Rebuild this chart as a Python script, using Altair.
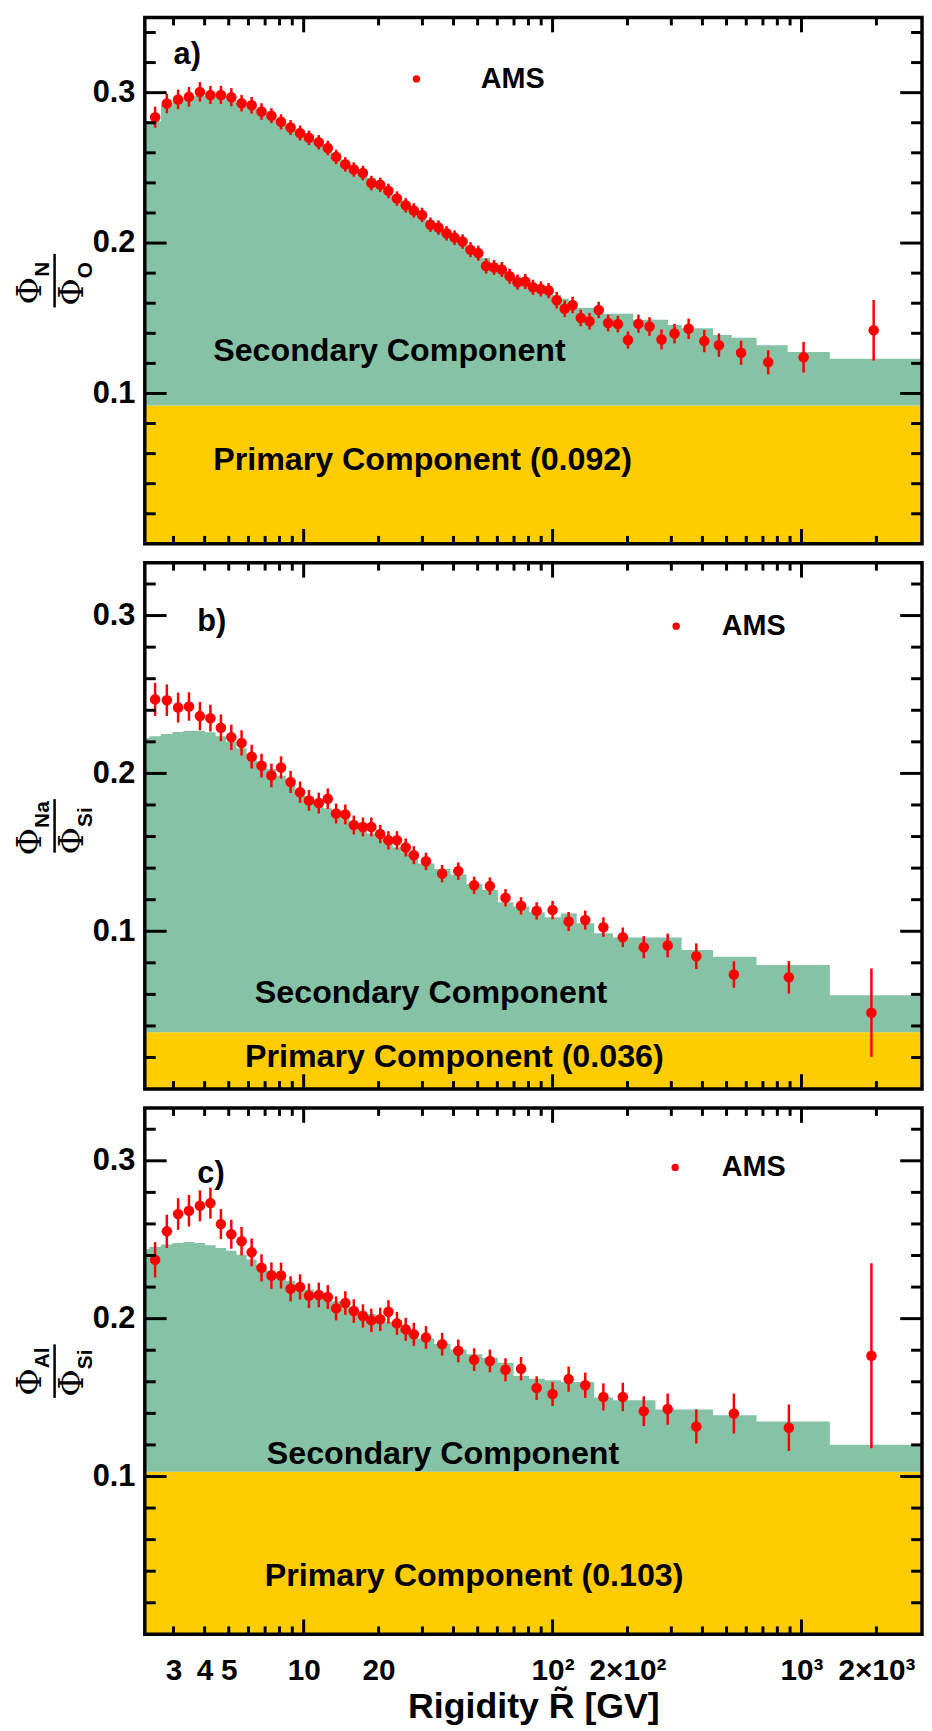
import altair as alt
import pandas as pd

# ---------------- data ----------------
# rigidity bin edges (GV)
EDGES_FINE = [2.15, 2.40, 2.67, 2.97, 3.29, 3.64, 4.02, 4.43, 4.88, 5.37, 5.90, 6.47, 7.09, 7.76,
              8.48, 9.26, 10.1, 11.0, 12.0, 13.0, 14.1, 15.3, 16.6, 18.0, 19.5, 21.1, 22.8, 24.7,
              26.7, 28.8]
EDGES_A_HIGH = [31.1, 33.5, 36.1, 38.9, 41.9, 45.1, 48.5, 52.2, 56.1, 60.3, 64.8, 69.7, 74.9,
                80.5, 86.5, 93.0, 100, 108, 116, 125, 135, 147, 160, 175, 192, 211, 233, 259,
                291, 330, 379, 441, 525, 660, 880, 1300, 3300]
EDGES_BC_HIGH = [33.5, 38.9, 45.1, 52.2, 60.3, 69.7, 80.5, 93.0, 108, 125, 147, 175, 211, 259,
                 330, 441, 660, 1300, 3300]

# data point rigidities
R_FINE = [2.53, 2.82, 3.13, 3.46, 3.83, 4.22, 4.65, 5.12, 5.63, 6.18, 6.77, 7.42, 8.11, 8.86,
          9.67, 10.5, 11.5, 12.5, 13.5, 14.7, 15.9, 17.3, 18.7, 20.3, 21.9, 23.7, 25.7, 27.7]
R_A_HIGH = [29.9, 32.3, 34.8, 37.5, 40.4, 43.5, 46.8, 50.3, 54.1, 58.2, 62.5, 67.2, 72.3, 77.7,
            83.4, 89.7, 96.4, 103.9, 111.9, 120.4, 129.8, 140.8, 153.2, 167.2, 183.0, 200.9,
            221.3, 245.2, 274.0, 309.0, 352.0, 407.0, 466.0, 572.0, 735.0, 1020.0, 1950.0]
R_BC_HIGH = [31.0, 36.0, 41.8, 48.4, 56.0, 64.7, 74.7, 86.3, 100.0, 116.0, 135.3, 160.0, 191.5,
             232.5, 290.0, 378.0, 535.0, 890.0, 1910.0]

# panel a: N/O
NO_RATIO = [0.2837, 0.2928, 0.2955, 0.2972, 0.3005, 0.2985, 0.2985, 0.2970, 0.2930, 0.2916,
            0.2875, 0.2847, 0.2806, 0.2768, 0.2732, 0.2700, 0.2670, 0.2632, 0.2573, 0.2523,
            0.2489, 0.2466, 0.2399, 0.2387, 0.2347, 0.2296, 0.2251, 0.2217, 0.2187, 0.2122,
            0.2103, 0.2065, 0.2036, 0.2010, 0.1956, 0.1933, 0.1847, 0.1838, 0.1824, 0.1779,
            0.1740, 0.1745, 0.1706, 0.1695, 0.1684, 0.1620, 0.1563, 0.1588, 0.1502, 0.1480,
            0.1555, 0.1468, 0.1461, 0.1355, 0.1464, 0.1445, 0.1359, 0.1398, 0.1430, 0.1348,
            0.1321, 0.1271, 0.1207, 0.1241, 0.1420]
NO_ERR = [0.0070, 0.0065, 0.0065, 0.0065, 0.0065, 0.0060, 0.0060, 0.0060, 0.0055, 0.0055,
          0.0055, 0.0050, 0.0050, 0.0050, 0.0050, 0.0048, 0.0048, 0.0048, 0.0048, 0.0048,
          0.0048, 0.0048, 0.0048, 0.0048, 0.0048, 0.0048, 0.0048, 0.0048, 0.0048, 0.0048,
          0.0048, 0.0048, 0.0048, 0.0048, 0.0050, 0.0050, 0.0050, 0.0050, 0.0050, 0.0050,
          0.0050, 0.0050, 0.0050, 0.0050, 0.0050, 0.0055, 0.0055, 0.0055, 0.0055, 0.0055,
          0.0055, 0.0055, 0.0055, 0.0057, 0.0060, 0.0062, 0.0066, 0.0065, 0.0068, 0.0074,
          0.0078, 0.0080, 0.0080, 0.0102, 0.0201]
NO_MODEL = [0.281, 0.281, 0.292, 0.295, 0.297, 0.298, 0.298, 0.297, 0.2955, 0.293, 0.2905,
            0.2875, 0.2845, 0.281, 0.2775, 0.274, 0.2705, 0.267, 0.263, 0.2595, 0.2555, 0.2515,
            0.2475, 0.2435, 0.2395, 0.2355, 0.2315, 0.2275, 0.2235, 0.2195, 0.2155, 0.2115,
            0.2075, 0.204, 0.2005, 0.197, 0.1935, 0.19, 0.187, 0.184, 0.181, 0.178, 0.1755,
            0.173, 0.1705, 0.168, 0.1655, 0.163, 0.1605, 0.157, 0.157, 0.157, 0.153, 0.153,
            0.153, 0.149, 0.149, 0.149, 0.1455, 0.1434, 0.1434, 0.1389, 0.137, 0.132, 0.1275,
            0.123]
NO_PRIMARY = 0.092

# panel b: Na/Si
NASI_RATIO = [0.2469, 0.2464, 0.2417, 0.2424, 0.2363, 0.2350, 0.2289, 0.2229, 0.2193, 0.2106,
              0.2049, 0.1987, 0.2038, 0.1946, 0.1881, 0.1829, 0.1812, 0.1840, 0.1746, 0.1740,
              0.1673, 0.1661, 0.1661, 0.1616, 0.1576, 0.1576, 0.1531, 0.1482, 0.1443, 0.1365,
              0.1381, 0.1291, 0.1286, 0.1212, 0.1161, 0.1129, 0.1134, 0.1062, 0.1071, 0.1026,
              0.0962, 0.0899, 0.0910, 0.0842, 0.0726, 0.0708, 0.0484]
NASI_ERR = [0.0105, 0.0100, 0.0095, 0.0090, 0.0090, 0.0085, 0.0085, 0.0080, 0.0080, 0.0075,
            0.0075, 0.0075, 0.0070, 0.0070, 0.0068, 0.0066, 0.0066, 0.0065, 0.0063, 0.0063,
            0.0060, 0.0060, 0.0060, 0.0058, 0.0058, 0.0058, 0.0057, 0.0057, 0.0055, 0.0055,
            0.0055, 0.0055, 0.0055, 0.0055, 0.0055, 0.0055, 0.0058, 0.0060, 0.0060, 0.0062,
            0.0062, 0.0070, 0.0075, 0.0081, 0.0084, 0.0103, 0.0280]
NASI_MODEL = [0.2225, 0.2235, 0.2250, 0.2262, 0.2270, 0.2270, 0.2260, 0.2235, 0.2200, 0.2160,
              0.2120, 0.2075, 0.2030, 0.1985, 0.1940, 0.1895, 0.1855, 0.1815, 0.1780, 0.1745,
              0.1710, 0.1680, 0.1650, 0.1620, 0.1590, 0.1560, 0.1530, 0.1500, 0.1470, 0.1430,
              0.1395, 0.1360, 0.1300, 0.1262, 0.1183, 0.1157, 0.1120, 0.1089, 0.1112, 0.1050,
              0.0988, 0.0961, 0.0961, 0.0961, 0.0882, 0.0838, 0.0786, 0.0595]
NASI_PRIMARY = 0.036

# panel c: Al/Si
ALSI_RATIO = [0.2373, 0.2553, 0.2663, 0.2684, 0.2715, 0.2732, 0.2599, 0.2535, 0.2491, 0.2420,
              0.2322, 0.2273, 0.2273, 0.2189, 0.2201, 0.2145, 0.2150, 0.2137, 0.2065, 0.2099,
              0.2048, 0.2017, 0.1989, 0.1996, 0.2043, 0.1970, 0.1932, 0.1901, 0.1881, 0.1838,
              0.1796, 0.1740, 0.1732, 0.1676, 0.1683, 0.1560, 0.1522, 0.1617, 0.1578, 0.1504,
              0.1504, 0.1414, 0.1427, 0.1317, 0.1399, 0.1309, 0.1765]
ALSI_ERR = [0.0112, 0.0105, 0.0100, 0.0100, 0.0098, 0.0098, 0.0095, 0.0092, 0.0090, 0.0088,
            0.0086, 0.0084, 0.0082, 0.0080, 0.0080, 0.0078, 0.0078, 0.0076, 0.0076, 0.0075,
            0.0075, 0.0074, 0.0074, 0.0074, 0.0074, 0.0073, 0.0073, 0.0073, 0.0072, 0.0072,
            0.0072, 0.0072, 0.0072, 0.0073, 0.0074, 0.0075, 0.0076, 0.0080, 0.0080, 0.0086,
            0.0090, 0.0094, 0.0099, 0.0108, 0.0126, 0.0147, 0.0586]
ALSI_MODEL = [0.2440, 0.2455, 0.2470, 0.2480, 0.2485, 0.2480, 0.2465, 0.2448, 0.2430, 0.2405,
              0.2375, 0.2340, 0.2305, 0.2270, 0.2240, 0.2210, 0.2185, 0.2160, 0.2135, 0.2110,
              0.2090, 0.2070, 0.2050, 0.2030, 0.2005, 0.1980, 0.1955, 0.1930, 0.1905, 0.1875,
              0.1840, 0.1805, 0.1775, 0.1753, 0.1720, 0.1637, 0.1620, 0.1610, 0.1599, 0.1599,
              0.1501, 0.1483, 0.1483, 0.1424, 0.1424, 0.1388, 0.1348, 0.1201]
ALSI_PRIMARY = 0.103

# axes
X_DOMAIN = [2.3, 3050]
X_LABEL_VALUES = [3, 4, 5, 10, 20, 100, 200, 1000, 2000]
X_LABEL_TEXTS = ["3", "4", "5", "10", "20", "10²", "2×10²", "10³", "2×10³"]
X_MAJOR_TICKS = [10, 100, 1000]
X_MINOR_TICKS = [3, 4, 5, 6, 7, 8, 9, 20, 30, 40, 50, 60, 70, 80, 90,
                 200, 300, 400, 500, 600, 700, 800, 900, 2000]
Y_LABEL_VALUES = [0.1, 0.2, 0.3]
Y_MINOR_TICKS = [0.02, 0.04, 0.06, 0.08, 0.12, 0.14, 0.16, 0.18, 0.22, 0.24, 0.26, 0.28,
                 0.32, 0.34]

# ---------------- style ----------------
W, H = 784, 531
GREEN = "#86C2A5"
YELLOW = "#FFCC00"
RED = "#FF0000"
SANS = "Liberation Sans"
SERIF = "DejaVu Serif"
DUMMY = pd.DataFrame({"d": [0]})

label_expr = "".join(f"datum.value == {v} ? '{t}' : " for v, t in zip(X_LABEL_VALUES, X_LABEL_TEXTS)) + "''"


def make_panel(r, ratio, err, edges, model, primary, ymax, letter, num_sub, den_sub,
               label_pos, legend_pos, sec_pos, prim_pos, title_offsets, show_x):
    xs = alt.Scale(type="log", domain=X_DOMAIN, nice=False)
    ys = alt.Scale(domain=[0, ymax], nice=False, zero=False)
    if show_x:
        xaxis = alt.Axis(values=X_LABEL_VALUES, labelExpr=label_expr, ticks=False, domain=False,
                         grid=False, labelFont=SANS, labelFontSize=30, labelFontWeight="bold",
                         labelColor="black", labelPadding=22, labelOverlap=False, labelFlush=False,
                         title="Rigidity R\u0303 [GV]", titleFont=SANS, titleFontSize=36,
                         titleFontWeight="bold", titleColor="black", titlePadding=4)
    else:
        xaxis = None
    yaxis = alt.Axis(values=Y_LABEL_VALUES, format=".1f", ticks=False, domain=False, grid=False,
                     labelFont=SANS, labelFontSize=31, labelFontWeight="bold", labelColor="black",
                     labelPadding=10, title=None)

    def X(f):
        return alt.X(f, type="quantitative", scale=xs, axis=xaxis)

    def Y(f):
        return alt.Y(f, type="quantitative", scale=ys, axis=yaxis)

    prim_df = pd.DataFrame({"lo": [edges[0]], "hi": [edges[-1]], "y0": [0.0], "y1": [primary]})
    step_df = pd.DataFrame({"e": edges, "y1": model + [model[-1]],
                            "y0": [primary] * len(edges)})
    pts = pd.DataFrame({"R": r, "v": ratio, "lo": [a - b for a, b in zip(ratio, err)],
                        "hi": [a + b for a, b in zip(ratio, err)]})

    layers = []
    layers.append(alt.Chart(prim_df).mark_rect(color=YELLOW, clip=True).encode(
        x=X("lo"), x2="hi", y=Y("y0"), y2="y1"))
    layers.append(alt.Chart(step_df).mark_area(color=GREEN, clip=True, opacity=1,
                                               interpolate="step-after").encode(
        x=X("e"), y=Y("y1"), y2="y0"))
    layers.append(alt.Chart(pts).mark_rule(color=RED, strokeWidth=2.5).encode(
        x=X("R"), y=Y("lo"), y2="hi"))
    layers.append(alt.Chart(pts).mark_circle(color=RED, size=113, opacity=1).encode(
        x=X("R"), y=Y("v")))

    # inward ticks
    for vals, ln in ((X_MAJOR_TICKS, 15), (X_MINOR_TICKS, 8)):
        d = pd.DataFrame({"t": vals})
        layers.append(alt.Chart(d).mark_rule(color="black", strokeWidth=3).encode(
            x=X("t"), y=alt.value(0), y2=alt.value(ln)))
        layers.append(alt.Chart(d).mark_rule(color="black", strokeWidth=3).encode(
            x=X("t"), y=alt.value(H), y2=alt.value(H - ln)))
    for vals, ln in ((Y_LABEL_VALUES, 22), (Y_MINOR_TICKS, 11)):
        d = pd.DataFrame({"t": [v for v in vals if v < ymax]})
        layers.append(alt.Chart(d).mark_rule(color="black", strokeWidth=3).encode(
            y=Y("t"), x=alt.value(0), x2=alt.value(ln)))
        layers.append(alt.Chart(d).mark_rule(color="black", strokeWidth=3).encode(
            y=Y("t"), x=alt.value(W), x2=alt.value(W - ln)))

    def txt(s, x, y, size, align="left", angle=None, font=SANS, bold=True):
        kw = dict(text=s, fontSize=size, font=font, align=align, baseline="middle",
                  color="black")
        if bold:
            kw["fontWeight"] = "bold"
        if angle is not None:
            kw["angle"] = angle
        return alt.Chart(DUMMY).mark_text(**kw).encode(x=alt.value(x), y=alt.value(y))

    layers.append(txt(letter, label_pos[0], label_pos[1], 31))
    layers.append(alt.Chart(DUMMY).mark_circle(color=RED, size=55, opacity=1).encode(
        x=alt.value(legend_pos[0]), y=alt.value(legend_pos[1])))
    layers.append(txt("AMS", legend_pos[2], legend_pos[1], 29))
    layers.append(txt("Secondary Component", sec_pos[0], sec_pos[1], 32.5))
    layers.append(txt(f"Primary Component ({primary:.3f})", prim_pos[0], prim_pos[1], 32.5))

    # y title as a fraction
    c = H / 2
    dn, dd = title_offsets
    layers.append(txt("\u03a6", -115, c + dn, 34, align="center", angle=270, font=SERIF,
                      bold=False))
    layers.append(txt(num_sub, -103, c + dn - 14, 21, align="left", angle=270))
    layers.append(txt("\u03a6", -72, c + dd, 34, align="center", angle=270, font=SERIF,
                      bold=False))
    layers.append(txt(den_sub, -59, c + dd - 14, 21, align="left", angle=270))
    layers.append(alt.Chart(DUMMY).mark_rule(color="black", strokeWidth=2.5).encode(
        x=alt.value(-91), y=alt.value(c - 27), y2=alt.value(c + 27)))

    # frame
    layers.append(alt.Chart(DUMMY).mark_rect(fillOpacity=0, stroke="black", strokeWidth=3.5).encode(
        x=alt.value(0), x2=alt.value(W), y=alt.value(0), y2=alt.value(H)))

    return alt.layer(*layers).properties(width=W, height=H)


edges_a = EDGES_FINE + EDGES_A_HIGH
edges_bc = EDGES_FINE + EDGES_BC_HIGH

pa = make_panel(R_FINE + R_A_HIGH, NO_RATIO, NO_ERR, edges_a, NO_MODEL, NO_PRIMARY, 0.35,
                "a)", "N", "O", (29, 38), (274, 62, 339), (69, 337), (69, 446), (10, 11.5), False)
pb = make_panel(R_FINE + R_BC_HIGH, NASI_RATIO, NASI_ERR, edges_bc, NASI_MODEL, NASI_PRIMARY,
                0.3335, "b)", "Na", "Si", (53, 60), (536, 64, 582), (111, 434), (101, 499),
                (16, 15), False)
pc = make_panel(R_FINE + R_BC_HIGH, ALSI_RATIO, ALSI_ERR, edges_bc, ALSI_MODEL, ALSI_PRIMARY,
                0.3335, "c)", "Al", "Si", (53, 67), (535, 60, 582), (123, 349), (121, 472),
                (11, 12), True)

chart = alt.vconcat(pa, pb, pc, spacing=15).properties(
    padding={"left": 6, "top": 0, "right": 0, "bottom": 2}
).configure_view(strokeWidth=0)

chart.save("out.html", embed_options={"renderer": "svg", "actions": False})
